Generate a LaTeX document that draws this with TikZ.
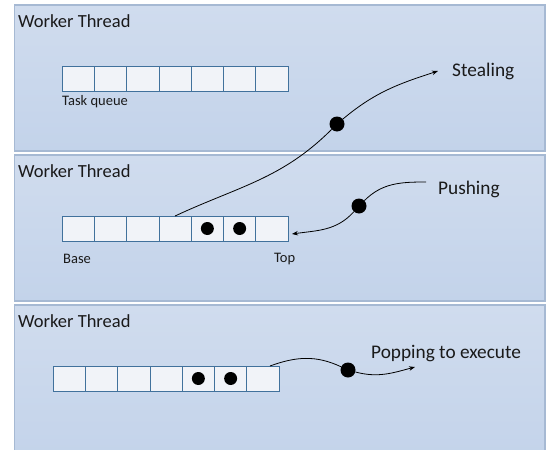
\documentclass[tikz,border=0pt]{standalone}
\usepackage{fontspec}
\setmainfont{Carlito}
\usetikzlibrary{arrows.meta}
\definecolor{panelTop}{HTML}{D0DCEE}
\definecolor{panelBot}{HTML}{C3D3EA}
\definecolor{panelEdge}{HTML}{A6B9D3}
\definecolor{cellFill}{HTML}{F1F3F8}
\definecolor{cellEdge}{HTML}{41719C}
\definecolor{ink}{HTML}{1A1A1A}
\begin{document}
\begin{tikzpicture}[x=1pt,y=1pt,
  panel/.style={draw=panelEdge, line width=1.2pt, top color=panelTop, bottom color=panelBot, minimum width=530.5pt, inner sep=0pt, outer sep=0pt, anchor=north west},
  cell/.style={draw=cellEdge, line width=0.8pt, fill=cellFill, minimum width=32.3pt, minimum height=25pt, inner sep=0pt, outer sep=0pt},
  token/.style={circle, fill=black, minimum size=13pt, inner sep=0pt},
  hop/.style={circle, fill=black, minimum size=15pt, inner sep=0pt},
  title/.style={font=\fontsize{18.5}{20}\selectfont, text=ink, anchor=west, inner sep=0pt},
  lbl/.style={font=\fontsize{19.3}{21}\selectfont, text=ink, anchor=west, inner sep=0pt},
  small/.style={font=\fontsize{14.5}{16}\selectfont, text=ink, anchor=west, inner sep=0pt},
  link/.style={line width=0.8pt, draw=black},
  flow/.style={link, -{Stealth[length=6pt,width=4.5pt]}},
]
\useasboundingbox (0,0) rectangle (547,-450);
\clip (0,0) rectangle (547,-450);
% panels
\node[panel, minimum height=146pt] (panel1) at (14.5,-5) {};
\node[panel, minimum height=146pt] (panel2) at (14.5,-155) {};
\node[panel, minimum height=160pt] (panel3) at (14.5,-305) {};
% titles
\node[title] (title1) at (18,-21) {Worker Thread};
\node[title] (title2) at (18,-171) {Worker Thread};
\node[title] (title3) at (18,-321) {Worker Thread};
% queues
\foreach \i in {1,...,7} {
  \node[cell] (a\i) at ({62+(\i-0.5)*32.3}, -78.5) {};
  \node[cell] (b\i) at ({62+(\i-0.5)*32.3}, -228.5) {};
  \node[cell] (c\i) at ({53+(\i-0.5)*32.3}, -378.5) {};
}
\node[token] (b5dot) at (b5) {};
\node[token] (b6dot) at (b6) {};
\node[token] (c5dot) at (c5) {};
\node[token] (c6dot) at (c6) {};
% small labels
\node[small] (tq) at (62,-102) {Task queue};
\node[small] (base) at (63,-259) {Base};
\node[small] (top) at (274,-259) {Top};
% big labels
\node[lbl] (steal) at (452,-71) {Stealing};
\node[lbl] (push) at (438,-189) {Pushing};
\node[lbl] (pop) at (371,-354) {Popping to execute};
% hops and ends
\node[hop] (d1) at (337,-124) {};
\node[hop] (d2) at (359,-206) {};
\node[hop] (d3) at (348,-370) {};
\coordinate (t1) at (438,-71);
\coordinate (p0) at (426,-182);
\coordinate (t2) at (292,-234);
\coordinate (s3) at ([xshift=7pt]c7.north);
\coordinate (t3) at (415,-367);
% connectors
\draw[link] (b4.north) to[out=25,in=225] (d1);
\draw[flow] (d1) to[out=40,in=198] (t1);
\draw[link] (p0) to[out=180,in=45] (d2);
\draw[flow] (d2) to[out=228,in=8] (t2);
\draw[link] (s3) to[out=20,in=155] (d3);
\draw[flow] (d3) to[out=-15,in=195] (t3);
\end{tikzpicture}
\end{document}
